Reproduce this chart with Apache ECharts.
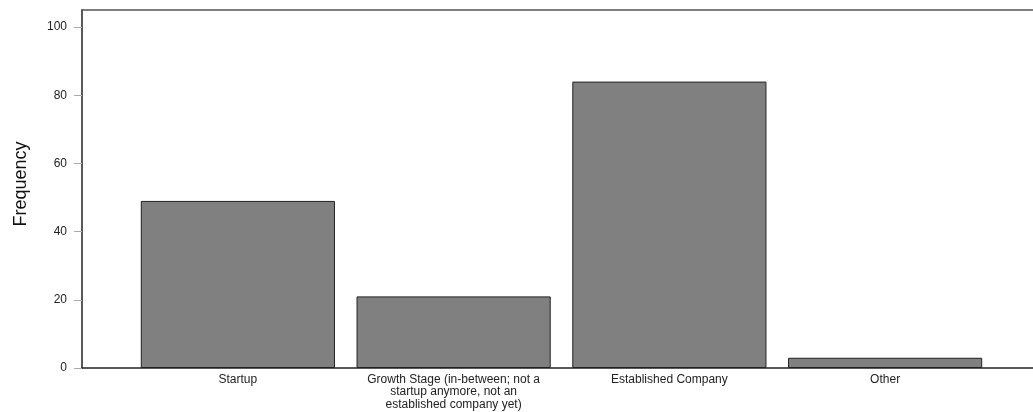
<!DOCTYPE html>
<html><head><meta charset="utf-8">
<script src="https://cdn.jsdelivr.net/npm/echarts@6/dist/echarts.min.js"></script>
<style>html,body{margin:0;padding:0;background:#fff}#c{width:1033px;height:412px}</style>
</head><body><div id="c"></div>
<script>
var categories = ["Startup", "Growth Stage (in-between; not a\nstartup anymore, not an\nestablished company yet)", "Established Company", "Other"];
var values = [49, 21, 84, 3];
var yTicks = [0, 20, 40, 60, 80, 100];
var yMax = 105;

var chart = echarts.init(document.getElementById('c'));
chart.setOption({
  animation: false,
  grid: [
    {left: 82, right: 0, top: 10, bottom: 44},
    {left: 130, width: 863, top: 10, bottom: 44}
  ],
  xAxis: [
    {gridIndex: 0, type: 'value', min: 0, max: 1, position: 'bottom',
     axisLine: {show: true, lineStyle: {color: '#222', width: 1.5}},
     axisTick: {show: false}, axisLabel: {show: false}, splitLine: {show: false}},
    {gridIndex: 0, type: 'value', min: 0, max: 1, position: 'top',
     axisLine: {show: true, lineStyle: {color: '#555', width: 1.5}},
     axisTick: {show: false}, axisLabel: {show: false}, splitLine: {show: false}},
    {gridIndex: 1, type: 'category', data: categories,
     axisLine: {show: false}, axisTick: {show: false},
     axisLabel: {color: '#222', fontSize: 12, fontFamily: 'Liberation Sans, Arial, sans-serif', lineHeight: 12.5, margin: 5, interval: 0}}
  ],
  yAxis: [
    {gridIndex: 0, type: 'value', min: 0, max: yMax, interval: 20,
     name: 'Frequency', nameLocation: 'middle', nameGap: 52, nameRotate: 90,
     nameTextStyle: {fontSize: 18, color: '#111', fontFamily: 'Liberation Sans, Arial, sans-serif', padding: [0, 0, 0, 10]},
     axisLine: {show: true, lineStyle: {color: '#222', width: 1.5}},
     axisTick: {show: true, length: 8, lineStyle: {color: '#aaa'}, customValues: yTicks},
     axisLabel: {color: '#222', fontSize: 12, margin: 15, fontFamily: 'Liberation Sans, Arial, sans-serif',
       customValues: yTicks},
     splitLine: {show: false}},
    {gridIndex: 1, type: 'value', min: 0, max: yMax, show: false, splitLine: {show: false}}
  ],
  series: [{
    type: 'bar', xAxisIndex: 2, yAxisIndex: 1, data: values,
    barCategoryGap: '10%',
    itemStyle: {color: '#808080', borderColor: '#222', borderWidth: 1}
  }]
});
</script></body></html>
